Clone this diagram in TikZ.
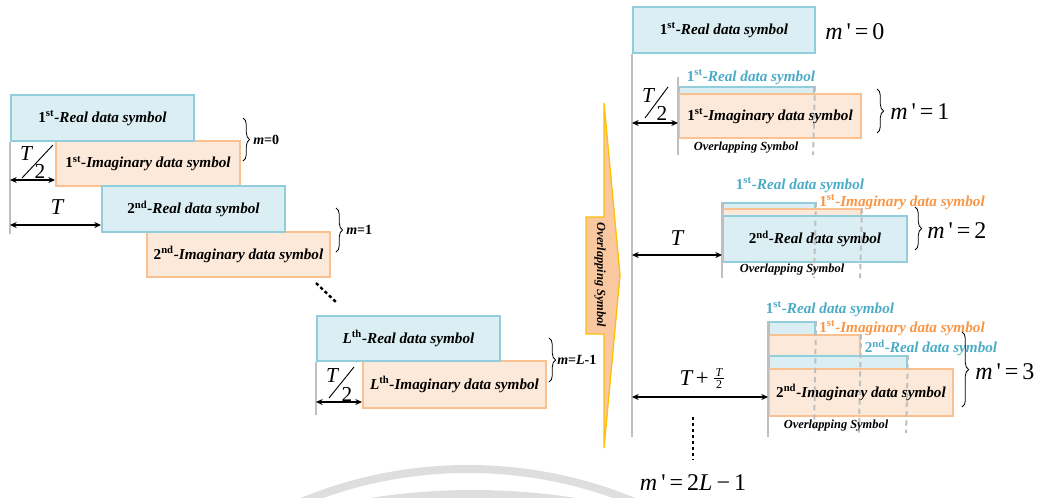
\documentclass[tikz,border=0pt]{standalone}
\usepackage{fontspec}
\setmainfont{Liberation Serif}
\usepackage{graphicx}
\usetikzlibrary{arrows.meta,decorations.pathreplacing}

\definecolor{aquaLine}{HTML}{92CDDC}
\definecolor{aquaFill}{HTML}{DAEEF3}
\definecolor{aquaText}{HTML}{4BACC6}
\definecolor{orngLine}{HTML}{FAC090}
\definecolor{orngFill}{HTML}{FDE9D9}
\definecolor{orngText}{HTML}{F79646}
\definecolor{funnelFill}{HTML}{F9C8A0}
\definecolor{funnelLine}{HTML}{FFC000}
\definecolor{guideGray}{HTML}{BFBFBF}

\newcommand{\ordn}[2]{{\upshape #1}\textsuperscript{\upshape #2}}
\newcommand{\symfont}{\fontsize{11.4}{13}\selectfont\bfseries\itshape}
\newcommand{\mprime}{\textit{m}\,\textquotesingle\,=\,}

\begin{document}
\begin{tikzpicture}[x=0.75pt,y=-0.75pt,
  boxsize/.style 2 args={minimum width=#1*0.75pt, minimum height=#2*0.75pt},
  symbox/.style={draw, line width=1.5pt, inner sep=0pt, anchor=north west, font=\symfont},
  realbox/.style={symbox, draw=aquaLine, fill=aquaFill},
  imagbox/.style={symbox, draw=orngLine, fill=orngFill},
  reallabel/.style={font=\symfont, text=aquaText, inner sep=0pt},
  imaglabel/.style={font=\symfont, text=orngText, inner sep=0pt},
  ovlabel/.style={font=\fontsize{9.3}{11}\selectfont\bfseries\itshape, inner sep=0pt},
  guide/.style={draw=guideGray, line width=1.5pt},
  cut/.style={draw=guideGray, line width=1.5pt, dash pattern=on 4pt off 3pt},
  dimarrow/.style={{Stealth[length=5pt,width=4.5pt]}-{Stealth[length=5pt,width=4.5pt]}, line width=0.9pt},
  brace/.style={decorate, decoration={brace, amplitude=5pt}, line width=0.6pt},
  mlabel/.style={font=\fontsize{10.5}{12}\selectfont\bfseries, inner sep=0pt, anchor=west},
  mplabel/.style={font=\fontsize{18}{20}\selectfont, inner sep=0pt, anchor=west},
  bigT/.style={font=\fontsize{17}{19}\selectfont\itshape, inner sep=0pt},
  halfnum/.style={font=\fontsize{16}{18}\selectfont, inner sep=0pt},
  fracnum/.style={font=\fontsize{9}{10}\selectfont, inner sep=0pt},
  slash/.style={line width=0.7pt},
  dots/.style={line width=1.8pt, dash pattern=on 2.5pt off 2pt},
  wmark/.style={draw=gray!26, line width=6pt}
]
\useasboundingbox (0,0) rectangle (1038,497);

% faint arcs in the background
\begin{scope}
  \clip (0,0) rectangle (1038,497);
  \draw[wmark] (468,904) circle[radius=435];
  \draw[wmark] (473,1150) circle[radius=656];
\end{scope}

% ---------------- left: staggered real / imaginary symbols ----------------
\node[imagbox, boxsize={184}{45}] (o1) at (55,140) {\ordn{1}{st}-Imaginary data symbol};
\node[imagbox, boxsize={183}{45}] (o2) at (146,231) {\ordn{2}{nd}-Imaginary data symbol};
\node[imagbox, boxsize={183}{47}] (oL) at (362,360) {L\textsuperscript{\upshape th}-Imaginary data symbol};
\node[realbox, boxsize={183}{46}] (b1) at (10,94) {\ordn{1}{st}-Real data symbol};
\node[realbox, boxsize={183}{46}] (b2) at (101,185) {\ordn{2}{nd}-Real data symbol};
\node[realbox, boxsize={183}{45}] (bL) at (316,315) {L\textsuperscript{\upshape th}-Real data symbol};

\coordinate (l0) at (10,234);
\draw[guide] (b1.south west) -- (l0);
\coordinate (lL) at (316,415);
\draw[guide] (bL.south west) -- (lL);

\coordinate (a1s) at (10,180);  \coordinate (a1e) at (55,180);
\draw[dimarrow] (a1s) -- (a1e);
\coordinate (a2s) at (10,225);  \coordinate (a2e) at (101,225);
\draw[dimarrow] (a2s) -- (a2e);
\coordinate (a3s) at (316,402); \coordinate (a3e) at (362,402);
\draw[dimarrow] (a3s) -- (a3e);

% T/2 marks
\node[halfnum] (h1T) at (26,154) {\itshape T};
\node[halfnum] (h1d) at (40,171) {2};
\draw[slash] (22,178) -- (53,145);
\node[halfnum] (h2T) at (332,376) {\itshape T};
\node[halfnum] (h2d) at (347,394) {2};
\draw[slash] (329,398) -- (354,367);
\node[bigT] (tl) at (57,207) {T};

% braces for m
\coordinate (br0t) at (243,118); \coordinate (br0b) at (243,161);
\draw[brace] (br0t) -- (br0b);
\node[mlabel] (m0) at (253,140) {\textit{m}=0};
\coordinate (br1t) at (336,208); \coordinate (br1b) at (336,252);
\draw[brace] (br1t) -- (br1b);
\node[mlabel] (m1) at (346,230) {\textit{m}=1};
\coordinate (br2t) at (549,338); \coordinate (br2b) at (549,382);
\draw[brace] (br2t) -- (br2b);
\node[mlabel] (m2) at (557,360) {\textit{m}=\textit{L}-1};

\coordinate (d1) at (316,283); \coordinate (d2) at (337,303);
\draw[dots] (d1) -- (d2);

% ---------------- middle: funnel arrow ----------------
\draw[fill=funnelFill, draw=funnelLine, line width=1pt]
  (604,103) -- (620,275) -- (604,448) -- (604,334) -- (586,334) -- (586,217) -- (604,217) -- cycle;
\node[ovlabel, rotate=-90] (ovl) at (600,275) {Overlapping Symbol};

% ---------------- right: overlapped symbols ----------------
\node[realbox, boxsize={182}{46}] (r0) at (632,6) {\ordn{1}{st}-Real data symbol};
\node[mplabel] (mp0) at (825,32) {\mprime 0};
\coordinate (rmain) at (632,437);
\draw[guide] (r0.south west) -- (rmain);

% m' = 1
\node[realbox, boxsize={135}{40}] (g1a) at (678,86) {};
\node[imagbox, boxsize={182}{44}] (g1b) at (678,93) {\ordn{1}{st}-Imaginary data symbol};
\coordinate (g1top) at (678,77); \coordinate (g1bot) at (678,155);
\draw[guide] (g1top) -- (g1bot);
\coordinate (g1c) at (813,155);
\draw[cut] (g1a.north east) -- (g1c);
\node[reallabel] (g1l) at (751,77) {\ordn{1}{st}-Real data symbol};
\node[ovlabel] (g1o) at (746,148) {Overlapping Symbol};
\coordinate (r1s) at (632,123); \coordinate (r1e) at (678,123);
\draw[dimarrow] (r1s) -- (r1e);
\node[halfnum] (h3T) at (648,96) {\itshape T};
\node[halfnum] (h3d) at (662,113) {2};
\draw[slash] (645,118) -- (668,87);
\coordinate (br3t) at (877,89); \coordinate (br3b) at (877,133);
\draw[brace] (br3t) -- (br3b);
\node[mplabel] (mp1) at (890,112) {\mprime 1};

% m' = 2
\node[realbox, boxsize={92}{40}] (g2a) at (722,202) {};
\node[imagbox, boxsize={138}{40}] (g2b) at (722,208) {};
\node[realbox, boxsize={184}{46}] (g2c) at (722,215) {\ordn{2}{nd}-Real data symbol};
\coordinate (g2bot) at (722,278);
\draw[guide] (g2a.north west) -- (g2bot);
\coordinate (g2c1) at (814,278); \coordinate (g2c2) at (860,278);
\draw[cut] (g2a.north east) -- (g2c1);
\draw[cut] (g2b.north east) -- (g2c2);
\node[reallabel] (g2l1) at (800,185) {\ordn{1}{st}-Real data symbol};
\node[imaglabel] (g2l2) at (902,202) {\ordn{1}{st}-Imaginary data symbol};
\node[ovlabel] (g2o) at (792,270) {Overlapping Symbol};
\coordinate (r2s) at (632,255); \coordinate (r2e) at (722,255);
\draw[dimarrow] (r2s) -- (r2e);
\node[bigT] (tr) at (677,238) {T};
\coordinate (br4t) at (915,207); \coordinate (br4b) at (915,250);
\draw[brace] (br4t) -- (br4b);
\node[mplabel] (mp2) at (927,231) {\mprime 2};

% m' = 3
\node[realbox, boxsize={46}{40}] (g3a) at (768,321) {};
\node[imagbox, boxsize={91}{40}] (g3b) at (768,334) {};
\node[realbox, boxsize={138}{30}] (g3c) at (768,355) {};
\node[imagbox, boxsize={184}{47}] (g3d) at (768,368) {\ordn{2}{nd}-Imaginary data symbol};
\coordinate (g3bot) at (768,437);
\draw[guide] (g3a.north west) -- (g3bot);
\coordinate (g3c1) at (814,433); \coordinate (g3c2) at (859,433); \coordinate (g3c3) at (906,433);
\draw[cut] (g3a.north east) -- (g3c1);
\draw[cut] (g3b.north east) -- (g3c2);
\draw[cut] (g3c.north east) -- (g3c3);
\node[reallabel] (g3l1) at (830,309) {\ordn{1}{st}-Real data symbol};
\node[imaglabel] (g3l2) at (902,328) {\ordn{1}{st}-Imaginary data symbol};
\node[reallabel] (g3l3) at (931,348) {\ordn{2}{nd}-Real data symbol};
\node[ovlabel] (g3o) at (836,426) {Overlapping Symbol};
\coordinate (r3s) at (632,397); \coordinate (r3e) at (768,397);
\draw[dimarrow] (r3s) -- (r3e);
% T + T/2 label
\node[bigT, anchor=east] (tt) at (709,378) {T\,\upshape+};
\node[fracnum, anchor=south] (ttn) at (719,376.5) {\itshape T};
\node[fracnum, anchor=north] (ttd) at (719,380.5) {2};
\draw[line width=0.5pt] (714,378.5) -- (724,378.5);
\coordinate (br5t) at (962,332); \coordinate (br5b) at (962,407);
\draw[brace] (br5t) -- (br5b);
\node[mplabel] (mp3) at (975,372) {\mprime 3};

\coordinate (d3) at (693,417); \coordinate (d4) at (693,460);
\draw[dots] (d3) -- (d4);
\node[mplabel, anchor=center] (mpL) at (693,483) {\mprime 2\textit{L}\,−\,1};

\end{tikzpicture}
\end{document}
